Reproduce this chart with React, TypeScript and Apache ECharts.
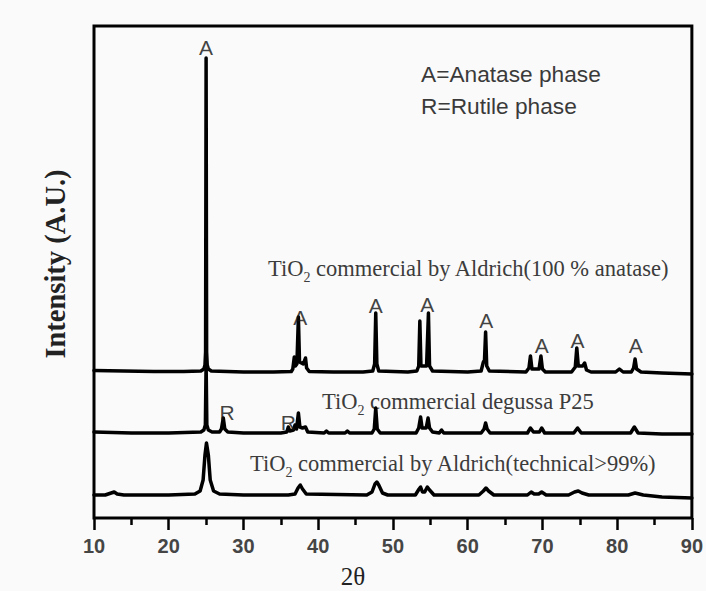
import React, { useEffect, useRef } from "react";
import * as echarts from "echarts";

// 2θ range and tick spacing
const X_MIN = 10;
const X_MAX = 90;
const X_STEP = 10;

// vertical offsets used to stack the three patterns (a.u.)
const OFFSET_ANATASE = 146;
const OFFSET_P25 = 85;
const OFFSET_TECHNICAL = 23;

// TiO2 commercial by Aldrich (100 % anatase): [2θ, intensity]
const anatase: [number, number][] = [
  [10, 1.5], [14, 1], [18, 0.5], [22, 0.5], [24.3, 1], [24.7, 3], [24.85, 7], [24.93, 20],
  [25.0, 314], [25.07, 20], [25.15, 7], [25.3, 3], [25.7, 1], [30, 0], [34, 0], [36.4, 0.5],
  [36.6, 3], [36.8, 15], [36.95, 6], [37.15, 8], [37.35, 55], [37.5, 10], [38.0, 8], [38.3, 14],
  [38.45, 4], [38.8, 0.5], [42, 0], [46, 0], [47.3, 1], [47.55, 8], [47.7, 59], [47.85, 8],
  [48.1, 1], [52, 0], [53.2, 1], [53.45, 6], [53.6, 51], [53.75, 6], [54.5, 6], [54.75, 59],
  [54.9, 6], [55.3, 1], [60, 0], [61.8, 1], [62.1, 10], [62.25, 12], [62.4, 40], [62.55, 6],
  [62.9, 1], [67.8, 0], [68.2, 4], [68.4, 16], [68.6, 3], [69.55, 3], [69.8, 16], [70.0, 3],
  [70.4, 0], [73.9, 0], [74.4, 5], [74.6, 24], [74.8, 6], [75.4, 6], [75.65, 9], [75.9, 2],
  [76.5, 0], [79.8, 0], [80.3, 3], [80.8, 0], [81.9, 0], [82.2, 4], [82.4, 13], [82.6, 3],
  [83.2, 0], [86, -1], [90, -2],
];

// TiO2 commercial degussa P25
const p25: [number, number][] = [
  [10, 1], [15, 0], [20, 0], [24.3, 1], [24.7, 3], [24.9, 8], [25.0, 70], [25.1, 8], [25.3, 3],
  [25.8, 1], [26.8, 1], [27.05, 4], [27.3, 15], [27.5, 4], [27.9, 1], [30, 0], [35, 0], [35.8, 1],
  [36.0, 6], [36.2, 2], [36.7, 3], [36.9, 8], [37.1, 4], [37.35, 20], [37.55, 6], [37.9, 5],
  [38.3, 6], [38.6, 1], [40.8, 0], [41.1, 2], [41.4, 0], [43.6, 0], [43.9, 2], [44.2, 0],
  [47.2, 0], [47.5, 4], [47.7, 25], [47.9, 4], [48.3, 0], [53.1, 0], [53.45, 5], [53.7, 16],
  [53.9, 5], [54.45, 5], [54.7, 15], [54.9, 5], [55.3, 1], [56.2, 0], [56.5, 3], [56.8, 0],
  [61.8, 0], [62.2, 4], [62.4, 10], [62.6, 4], [63.0, 0], [68.0, 0], [68.4, 5], [68.8, 1],
  [69.6, 1], [69.9, 5], [70.3, 0], [74.2, 0], [74.7, 5], [75.2, 0], [81.8, 0], [82.3, 6],
  [82.8, 0], [86, -1], [90, -1],
];

// TiO2 commercial by Aldrich (technical > 99%)
const technical: [number, number][] = [
  [10, 0], [11.5, 0], [12.3, 2], [12.7, 3], [13.1, 1], [14, 0], [20, 0], [23.5, 1], [24.2, 4],
  [24.6, 15], [24.85, 40], [25.05, 52], [25.3, 40], [25.55, 15], [26.0, 4], [26.8, 1], [30, 0],
  [36, 0], [36.9, 1], [37.3, 7], [37.6, 10], [37.9, 6], [38.4, 1], [46.5, 0], [47.2, 3],
  [47.6, 11], [47.85, 13], [48.1, 10], [48.6, 2], [49.3, 0], [53.0, 0], [53.5, 6], [53.7, 8],
  [53.95, 3], [54.25, 3], [54.6, 8], [54.9, 5], [55.5, 0], [61.5, 0], [62.1, 4], [62.45, 7],
  [62.8, 4], [63.5, 0], [68.0, 0], [68.5, 3], [68.9, 1], [69.5, 1], [69.9, 3], [70.5, 0],
  [73.5, 0], [74.3, 3], [74.8, 4], [75.3, 2], [76.2, 0], [81.5, 0], [82.4, 2], [83.5, 0],
  [86, -2], [90, -3],
];

// phase markers: [2θ, height, letter]
const phaseMarks: [number, number, string][] = [
  [25.0, 471, "A"], [37.6, 201, "A"], [47.7, 213, "A"], [54.6, 214, "A"],
  [62.5, 198, "A"], [69.9, 173, "A"], [74.7, 178, "A"], [82.5, 173, "A"],
  [27.8, 106, "R"], [36.0, 96, "R"],
];

const legendLines = ["A=Anatase phase", "R=Rutile phase"];

const sampleNames = [
  { sub: "TiO", rest: " commercial by Aldrich(100 % anatase)" },
  { sub: "TiO", rest: " commercial degussa P25" },
  { sub: "TiO", rest: " commercial by Aldrich(technical>99%)" },
];

const shift = (pts: [number, number][], off: number) => pts.map(([x, y]) => [x, y + off]);

const SERIF = "'Liberation Serif', 'Times New Roman', serif";
const SANS = "'Liberation Sans', Arial, sans-serif";

export default function App() {
  const ref = useRef<HTMLDivElement>(null);

  useEffect(() => {
    document.body.style.margin = "0";
    if (!ref.current) return;
    const chart = echarts.init(ref.current, undefined, { renderer: "svg" });

    const lineSeries = (name: string, data: number[][]) => ({
      name,
      type: "line",
      data,
      showSymbol: false,
      symbol: "none",
      lineStyle: { color: "#000", width: 3.5, join: "round", cap: "round" },
      z: 3,
    });

    const richName = (n: { sub: string; rest: string }) => ({
      text: `{n|${n.sub}}{s|2}{n|${n.rest}}`,
      rich: {
        n: { fontFamily: SERIF, fontSize: 22.5, fill: "#3c3c3c", lineHeight: 32, verticalAlign: "middle" },
        s: { fontFamily: SERIF, fontSize: 14, fill: "#3c3c3c", verticalAlign: "bottom", lineHeight: 32 },
      },
      verticalAlign: "middle",
      align: "left",
    });

    const namePos = [
      { x: 268, y: 268 },
      { x: 322, y: 401 },
      { x: 250, y: 463 },
    ];

    chart.setOption({
      animation: false,
      backgroundColor: "#fafafa",
      grid: {
        left: 94,
        right: 12,
        top: 26,
        bottom: 73,
        show: true,
        borderColor: "#000",
        borderWidth: 3,
        backgroundColor: "transparent",
      },
      xAxis: {
        type: "value",
        min: X_MIN,
        max: X_MAX,
        interval: X_STEP,
        axisLine: { show: false },
        axisTick: { show: true, inside: false, length: 12, lineStyle: { color: "#000", width: 2.5 } },
        minorTick: { show: true, splitNumber: 2, length: 7, lineStyle: { color: "#000", width: 2.5 } },
        splitLine: { show: false },
        axisLabel: {
          margin: 18,
          fontFamily: SANS,
          fontWeight: "bold",
          fontSize: 20,
          color: "#454545",
        },
      },
      yAxis: {
        type: "value",
        min: 0,
        max: 492,
        show: false,
      },
      series: [
        lineSeries("anatase", shift(anatase, OFFSET_ANATASE)),
        lineSeries("p25", shift(p25, OFFSET_P25)),
        lineSeries("technical", shift(technical, OFFSET_TECHNICAL)),
        {
          type: "scatter",
          symbolSize: 0,
          data: phaseMarks.map(([x, y, t]) => [x, y, t]),
          label: {
            show: true,
            position: "inside",
            formatter: (p: any) => p.value[2],
            fontFamily: SANS,
            fontSize: 21,
            color: "#111",
          },
          z: 4,
        },
      ],
      graphic: [
        ...legendLines.map((t, i) => ({
          type: "text",
          left: 421,
          top: 62 + i * 32,
          style: { text: t, fontFamily: SANS, fontSize: 22.7, fill: "#3a3a3a" },
        })),
        ...sampleNames.map((n, i) => ({
          type: "text",
          x: namePos[i].x,
          y: namePos[i].y,
          style: richName(n),
        })),
        {
          type: "text",
          x: 55,
          y: 264,
          rotation: Math.PI / 2,
          style: {
            text: "Intensity (A.U.)",
            fontFamily: SERIF,
            fontWeight: "bold",
            fontSize: 28.5,
            fill: "#222",
            align: "center",
            verticalAlign: "middle",
          },
        },
        {
          type: "text",
          x: 353,
          y: 576,
          style: {
            text: "2θ",
            fontFamily: SERIF,
            fontSize: 25,
            fill: "#222",
            align: "center",
            verticalAlign: "middle",
          },
        },
      ],
    });

    return () => chart.dispose();
  }, []);

  return (
    <div
      ref={ref}
      style={{ position: "absolute", left: 0, top: 0, width: 706, height: 591, background: "#fafafa" }}
    />
  );
}
